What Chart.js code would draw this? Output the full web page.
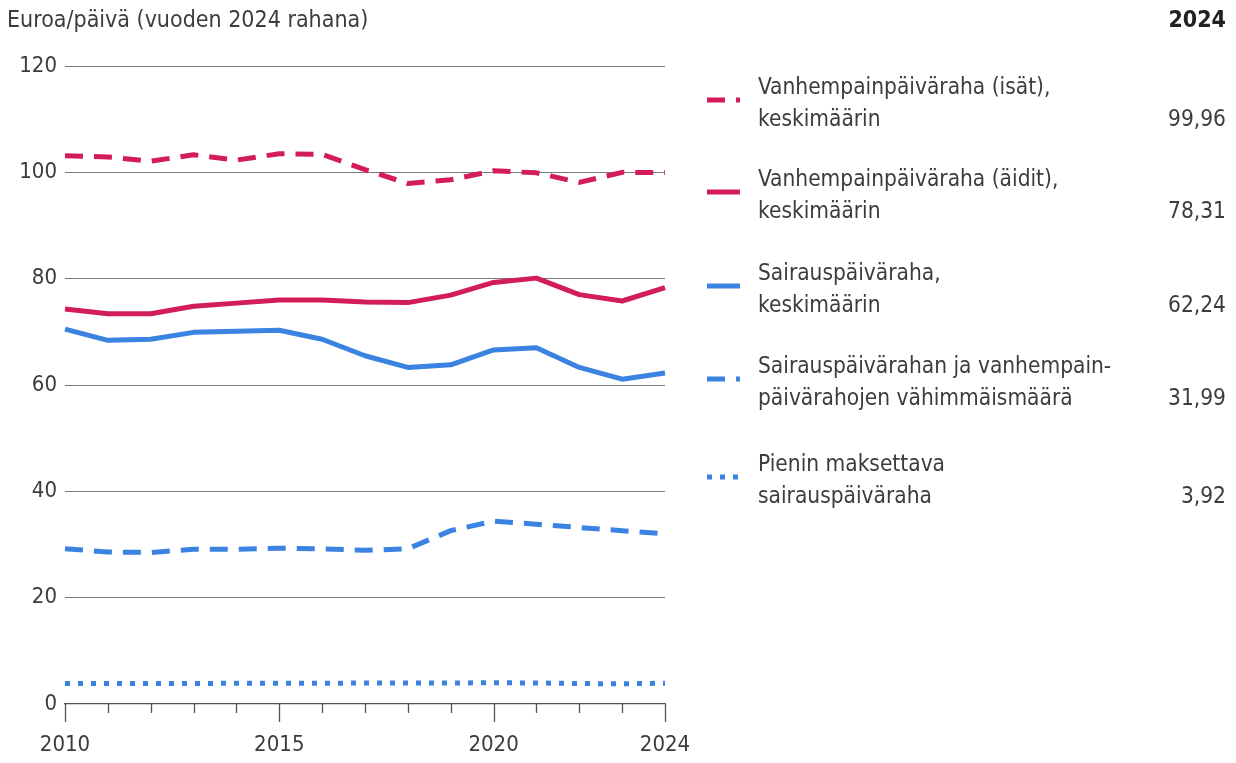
<!DOCTYPE html>
<html>
<head>
<meta charset="utf-8">
<script src="https://cdn.jsdelivr.net/npm/chart.js@4/dist/chart.umd.min.js"></script>
<style>
  html, body { margin: 0; padding: 0; background: #fff; }
  body { width: 1236px; height: 763px; position: relative; overflow: hidden;
         font-family: 'Liberation Sans Narrow', 'DejaVu Sans Condensed', sans-serif; color: #3c3c3c; }
  #c { position: absolute; left: 0; top: 0; }
  .title { position: absolute; left: 7px; top: 3px; font-size: 23px; line-height: 32px; white-space: nowrap; }
  .year { position: absolute; right: 10px; top: 3px; font-size: 23px; line-height: 32px; font-weight: bold; color: #222; }
  .entry { position: absolute; left: 0; width: 1236px; height: 70px; }
  .entry svg { position: absolute; left: 707px; }
  .entry .txt { position: absolute; left: 758px; font-size: 22.5px; line-height: 32px; white-space: nowrap; }
  .entry .val { position: absolute; right: 10px; font-size: 22.5px; line-height: 32px; text-align: right; }
</style>
</head>
<body>
<canvas id="c" width="1236" height="763"></canvas>
<div class="title">Euroa/päivä (vuoden 2024 rahana)</div>
<div class="year" id="yr"></div>
<div id="legend"></div>
<script>
// ---- Data ----
const years = ['2010','2011','2012','2013','2014','2015','2016','2017','2018','2019','2020','2021','2022','2023','2024'];
const shownYears = ['2010','2015','2020','2024'];
const yTicks = [0, 20, 40, 60, 80, 100, 120];

const fathers   = [103.1, 102.9, 102.1, 103.3, 102.3, 103.5, 103.4, 100.5, 97.9, 98.6, 100.3, 99.9, 98.1, 100.0, 99.96];
const mothers   = [74.3, 73.4, 73.4, 74.8, 75.4, 76.0, 76.0, 75.6, 75.5, 76.9, 79.3, 80.1, 77.0, 75.8, 78.31];
const sickness  = [70.5, 68.4, 68.6, 69.9, 70.1, 70.3, 68.6, 65.5, 63.3, 63.8, 66.6, 67.0, 63.3, 61.1, 62.24];
const minimum   = [29.2, 28.6, 28.5, 29.1, 29.1, 29.3, 29.2, 28.9, 29.2, 32.6, 34.4, 33.8, 33.2, 32.6, 31.99];
const smallest  = [3.85, 3.85, 3.85, 3.85, 3.9, 3.9, 3.9, 3.95, 3.95, 3.95, 4.0, 3.95, 3.85, 3.8, 3.92];

const seriesNames = [
  ['Vanhempainpäiväraha (isät),', 'keskimäärin'],
  ['Vanhempainpäiväraha (äidit),', 'keskimäärin'],
  ['Sairauspäiväraha,', 'keskimäärin'],
  ['Sairauspäivärahan ja vanhempain-', 'päivärahojen vähimmäismäärä'],
  ['Pienin maksettava', 'sairauspäiväraha']
];

// ---- Styles ----
const RED = '#d31d57';
const BLUE = '#3b83e0';
const FONT = "'Liberation Sans Narrow', 'DejaVu Sans Condensed', sans-serif";
const TXT = '#3c3c3c';

const seriesData = [fathers, mothers, sickness, minimum, smallest];
const seriesColor = [RED, RED, BLUE, BLUE, BLUE];
const seriesDash = [[18, 11], [], [], [18, 11], [5, 8]];

document.getElementById('yr').textContent = years[years.length - 1];

// Legend (HTML)
const legend = document.getElementById('legend');
const entryTops = [69, 161, 255, 348, 446];
seriesNames.forEach((lines, i) => {
  const d = document.createElement('div');
  d.className = 'entry';
  d.style.top = entryTops[i] + 'px';
  const data = seriesData[i];
  const last = data[data.length - 1].toFixed(2).replace('.', ',');
  const dash = seriesDash[i].length ? seriesDash[i].join(' ') : 'none';
  d.innerHTML =
    '<svg width="36" height="10" style="top:26px"><line x1="0" y1="5" x2="33" y2="5" stroke="' + seriesColor[i] +
    '" stroke-width="5" stroke-dasharray="' + dash + '"/></svg>' +
    '<div class="txt" style="top:1px">' + lines[0] + '<br>' + lines[1] + '</div>' +
    '<div class="val" style="top:33px">' + last + '</div>';
  legend.appendChild(d);
});

// Tick marks below the x axis
const xTickMarks = {
  id: 'xTickMarks',
  afterDraw(chart) {
    const xs = chart.scales.x;
    const ctx = chart.ctx;
    const y0 = chart.chartArea.bottom;
    ctx.save();
    ctx.strokeStyle = '#555';
    ctx.lineWidth = 1.3;
    xs.ticks.forEach((t, i) => {
      const px = Math.round(xs.getPixelForTick(i)) + 0.5;
      const len = shownYears.includes(years[i]) ? 18 : 9;
      ctx.beginPath();
      ctx.moveTo(px, y0);
      ctx.lineTo(px, y0 + len);
      ctx.stroke();
    });
    ctx.restore();
  }
};

const datasets = seriesData.map((d, i) => ({
  label: seriesNames[i].join(' '),
  data: d,
  borderColor: seriesColor[i],
  backgroundColor: seriesColor[i],
  borderWidth: 5,
  borderDash: seriesDash[i],
  borderCapStyle: 'butt',
  borderJoinStyle: 'round',
  pointRadius: 0,
  tension: 0,
  fill: false
}));

new Chart(document.getElementById('c'), {
  type: 'line',
  data: { labels: years, datasets: datasets.slice().reverse() },
  plugins: [xTickMarks],
  options: {
    responsive: false,
    animation: false,
    devicePixelRatio: 1,
    layout: { padding: { left: 0, top: 66, right: 571, bottom: 0 } },
    plugins: { legend: { display: false }, tooltip: { enabled: false }, title: { display: false } },
    scales: {
      x: {
        type: 'category',
        offset: false,
        grid: { display: true, drawOnChartArea: false, drawTicks: false },
        border: { display: true, color: '#555', width: 1.3 },
        ticks: {
          autoSkip: false, maxRotation: 0, minRotation: 0, padding: 28,
          color: TXT, font: { family: FONT, size: 22 },
          callback: function(v, i) { return shownYears.includes(years[i]) ? years[i] : ''; }
        },
        afterFit: s => { s.height = 59; }
      },
      y: {
        min: yTicks[0], max: yTicks[yTicks.length - 1],
        afterBuildTicks: s => { s.ticks = yTicks.map(v => ({ value: v })); },
        grid: {
          drawTicks: false,
          color: ctx => (ctx.tick && ctx.tick.value === 0) ? 'rgba(0,0,0,0)' : '#7a7a7a',
          lineWidth: 1
        },
        border: { display: false },
        ticks: { padding: 8, color: TXT, font: { family: FONT, size: 22 } },
        afterFit: s => { s.width = 65; }
      }
    }
  }
});
</script>
</body>
</html>
